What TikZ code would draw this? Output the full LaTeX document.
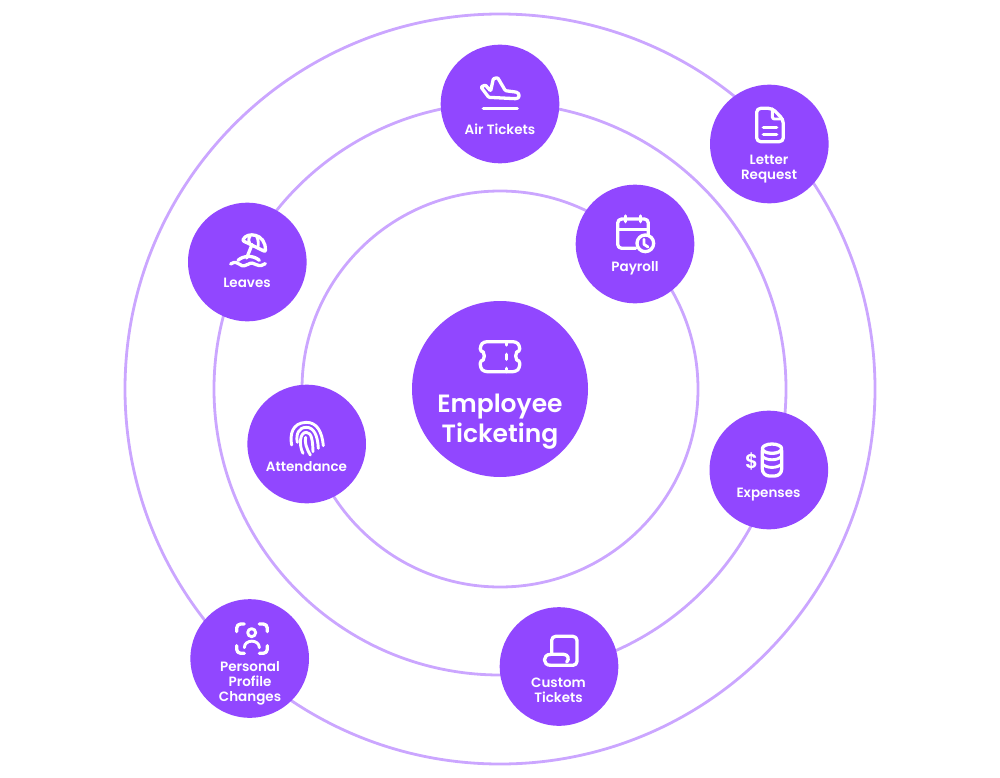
\documentclass[tikz,border=0pt]{standalone}
\usepackage{fontspec}
\setmainfont{Poppins}[UprightFont=* SemiBold]
\definecolor{nodepurple}{HTML}{9147FF}
\definecolor{ringpurple}{HTML}{CBA6FF}
\tikzset{
  ring/.style={circle,draw=ringpurple,line width=2.8pt,fill=none,inner sep=0pt},
  hub/.style={circle,fill=nodepurple,inner sep=0pt,minimum size=118.6pt},
  mainhub/.style={circle,fill=nodepurple,inner sep=0pt,minimum size=176pt},
  lab/.style={text=white,align=center,inner sep=0pt,font=\fontsize{13.5}{15}\selectfont},
  mainlab/.style={text=white,align=center,inner sep=0pt,font=\fontsize{25}{30}\selectfont},
  icon/.style={draw=white,line width=3.3pt,line cap=round,line join=round},
  thin icon/.style={draw=white,line width=2.9pt,line cap=round,line join=round},
  zoomat/.style 2 args={shift={(#1,#2)},scale=0.33333},
}
\begin{document}
\begin{tikzpicture}[x=1pt,y=-1pt]
\useasboundingbox (0,0) rectangle (1000,778);
% rings
\node[ring,minimum size=750pt] (outer) at (500,389) {};
\node[ring,minimum size=572pt] (middle) at (500,389) {};
\node[ring,minimum size=396pt] (inner) at (500,389) {};
% hubs
\node[hub] (air) at (500,104) {};
\node[hub] (letter) at (769.3,144) {};
\node[hub] (payroll) at (635,244) {};
\node[hub] (leaves) at (247.3,262) {};
\node[hub] (attendance) at (306.7,444) {};
\node[hub] (expenses) at (768.8,470) {};
\node[hub] (personal) at (249.7,658.5) {};
\node[hub] (custom) at (559,666.5) {};
\node[mainhub] (center) at (500,389) {};
% labels
\node[lab] (airlab) at (500,129.3) {Air Tickets};
\node[lab] (letterlab) at (769,169) {Letter\\Request};
\node[lab] (payrolllab) at (635,268) {Payroll};
\node[lab] (leaveslab) at (247,283) {Leaves};
\node[lab] (attlab) at (306.5,467) {Attendance};
\node[lab] (explab) at (768.5,494.5) {Expenses};
\node[lab] (perslab) at (250,683) {Personal\\Profile\\Changes};
\node[lab] (custlab) at (558.5,690.5) {Custom\\Tickets};
\node[mainlab] (mainlabel) at (500,422) {Employee\\Ticketing};
% plane
\begin{scope}[zoomat={440}{45}]
\draw[icon,rounded corners=1pt] (123,126) -- (136,120) -- (152,138) -- (160,101) -- (173,98) -- (196,137) -- (226,141) .. controls (240,144) and (240,160) .. (226,161) -- (146,157) -- cycle;
\draw[icon] (130,190) -- (232,190);
\end{scope}
% letter
\begin{scope}[zoomat={710}{85}]
\draw[icon,rounded corners=4pt] (187,70) -- (140,70) -- (140,170) -- (220,170) -- (220,104) -- cycle;
\draw[thin icon,rounded corners=2pt] (187,72) -- (187,102) -- (218,102);
\draw[icon] (160,127) -- (200,127);
\draw[icon] (160,148) -- (200,148);
\end{scope}
% calendar
\begin{scope}[zoomat={575}{185}]
\draw[icon,rounded corners=4pt] (182,190) -- (128,190) -- (128,102) -- (220,102) -- (220,150);
\draw[icon] (128,133) -- (220,133);
\draw[icon] (151,93) -- (151,110);
\draw[icon] (197,93) -- (197,110);
\draw[icon] (211,175) circle (25);
\draw[thin icon] (207,163) -- (207,178) -- (219,186);
\end{scope}
% beach umbrella
\begin{scope}[zoomat={188}{203}]
\draw[icon,rounded corners=1pt] (164,113) .. controls (175,85) and (235,90) .. (232,146) -- cycle;
\draw[thin icon] (186,100) .. controls (180,108) and (182,118) .. (186,124);
\draw[thin icon] (206,100) .. controls (212,112) and (212,125) .. (209,135);
\draw[icon] (192,125) -- (176,165);
\draw[icon] (150,172) .. controls (165,158) and (195,155) .. (214,172);
\draw[icon] (128,183) .. controls (140,175) and (148,178) .. (155,184) .. controls (165,192) and (172,188) .. (180,184) .. controls (190,178) and (196,180) .. (205,185) .. controls (215,190) and (225,188) .. (232,182);
\end{scope}
% ticket
\begin{scope}[zoomat={410}{300}]
\draw[icon,rounded corners=3pt] (222,125) -- (318,125) -- (329,136) -- (329,156) arc (-90:-270:12) -- (329,204) -- (318,215) -- (222,215) -- (211,204) -- (211,180) arc (90:-90:12) -- (211,136) -- cycle;
\draw[icon] (290,125) -- (290,135);
\draw[icon] (290,163) -- (290,178);
\draw[icon] (290,205) -- (290,215);
\end{scope}
% fingerprint
\begin{scope}[zoomat={247}{385}]
\draw[thin icon] (134,180) .. controls (128,150) and (135,113) .. (178,112) .. controls (210,112) and (225,140) .. (229,182);
\draw[thin icon] (151,172) .. controls (146,148) and (155,127) .. (178,127) .. controls (200,127) and (212,150) .. (214,190);
\draw[thin icon] (168,205) .. controls (155,180) and (158,142) .. (178,142) .. controls (195,142) and (197,170) .. (198,200);
\draw[thin icon] (190,210) .. controls (178,190) and (172,170) .. (176,157);
\end{scope}
% coins
\begin{scope}[zoomat={709}{411}]
\draw[icon,rounded corners=7pt] (160,118) -- (160,195) -- (218,195) -- (218,118);
\draw[icon] (189,113) ellipse (29 and 14);
\draw[thin icon] (160,135) .. controls (170,150) and (208,150) .. (218,135);
\draw[thin icon] (160,158) .. controls (170,173) and (208,173) .. (218,158);
\node[text=white,font=\fontsize{20}{20}\selectfont,inner sep=0pt] (dollar) at (128,150) {\$};
\end{scope}
% face scan
\begin{scope}[zoomat={190}{599}]
\draw[icon,rounded corners=4pt] (140,98) -- (140,75) -- (163,75);
\draw[icon,rounded corners=4pt] (208,75) -- (232,75) -- (232,98);
\draw[icon,rounded corners=4pt] (140,140) -- (140,163) -- (163,163);
\draw[icon,rounded corners=4pt] (208,163) -- (232,163) -- (232,140);
\draw[thin icon] (185,101) circle (12);
\draw[thin icon] (163,146) .. controls (163,120) and (208,120) .. (208,146);
\end{scope}
% scroll
\begin{scope}[zoomat={499}{607}]
\draw[icon,rounded corners=4pt] (158,142) -- (158,88) -- (234,88) -- (234,175) -- (155,175);
\draw[icon] (155,175) .. controls (130,175) and (130,142) .. (155,142) -- (194,142) .. controls (208,142) and (212,158) .. (203,165);
\end{scope}
\end{tikzpicture}
\end{document}
